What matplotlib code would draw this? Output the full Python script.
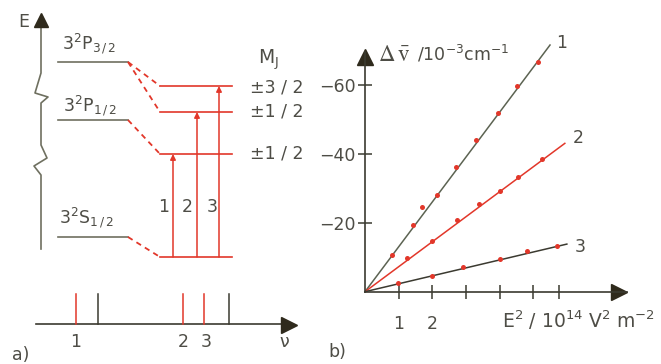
import numpy as np
import matplotlib.pyplot as plt

plt.rcParams['font.family'] = ['DejaVu Sans']
plt.rcParams['mathtext.fontset'] = 'custom'
plt.rcParams['mathtext.rm'] = 'DejaVu Sans'
plt.rcParams['mathtext.it'] = 'DejaVu Sans:italic'

RED = '#e2372a'
GRAY = '#6f7060'
DARK = '#3b3a30'
TXT = '#4e4d46'
ARROW = '#2f2a1c'

# ---- a) Stark splitting of the Na D lines (schematic, diagram units, y downwards)
fine_names = [r'3$^\mathregular{2}$P$_\mathregular{3\,/\,2}$',
              r'3$^\mathregular{2}$P$_\mathregular{1\,/\,2}$',
              r'3$^\mathregular{2}$S$_\mathregular{1\,/\,2}$']
fine_E = [62, 120, 237]           # unperturbed levels
stark_E = [86, 112, 154, 257]     # shifted levels in the field
stark_names = ['±3 / 2', '±1 / 2', '±1 / 2']
links = [(0, 0), (0, 1), (1, 2), (2, 3)]   # fine level -> stark level
trans_x = [173, 197, 219]
trans_upper = [2, 1, 0]
trans_names = ['1', '2', '3']
spec_red = [76, 183, 204]
spec_red_names = ['1', '2', '3']
spec_black = [98, 229]

# ---- b) shift vs E^2
x1 = [0.79, 1.42, 1.68, 2.13, 2.69, 3.29, 3.96, 4.5, 5.12]
y1 = [-10.6, -19.3, -24.5, -28, -36.2, -44, -51.7, -59.7, -66.5]
x2 = [1.25, 1.98, 2.73, 3.38, 4.01, 4.55, 5.24]
y2 = [-9.7, -14.8, -20.8, -25.3, -29.3, -33.3, -38.5]
x3 = [0.99, 1.98, 2.92, 4.01, 4.82, 5.69]
y3 = [-2.4, -4.6, -7.2, -9.4, -11.8, -13.2]
fit_x = [5.49, 5.93, 5.99]
fit_y = [-71.5, -43, -13.8]
fit_colors = ['#5c6352', RED, DARK]
xticks = [1, 2, 3, 4, 5, 5.75]
xticklabels = ['1', '2', '', '', '', '']
yticks = [-20, -40, -60]

W, H = 661, 364
fig = plt.figure(figsize=(W / 100, H / 100), dpi=100)

ax = fig.add_axes([0, 0, 1, 1])
ax.set_xlim(0, W)
ax.set_ylim(H, 0)
ax.axis('off')

fs = 12.5
# energy axis with breaks
ex = 41
ax.plot([ex, ex, 35, 48, ex, ex, 47, 34, ex, ex],
        [24, 73, 93, 97, 103, 145, 158, 166, 175, 249], color=GRAY, lw=1.2)
ax.plot(ex, 20, marker='^', ms=10, color=ARROW)
ax.text(24, 27, 'E', fontsize=fs, color=TXT, ha='center', va='baseline')

for E in fine_E:
    ax.plot([58, 128], [E, E], color=GRAY, lw=1.2)
for name, xl, base in zip(fine_names, [62, 63, 59], [50, 112, 223]):
    ax.text(xl, base, name, fontsize=fs, color=TXT, ha='left', va='baseline')

for E in stark_E:
    ax.plot([160, 232], [E, E], color=RED, lw=1.2)
for a, b in links:
    ax.plot([128, 160], [fine_E[a], stark_E[b]], color=RED, lw=1.3, ls=(0, (3, 2.5)))

for xt, up, name, xl in zip(trans_x, trans_upper, trans_names, [164, 187, 212]):
    ax.annotate('', xy=(xt, stark_E[up]), xytext=(xt, stark_E[3]),
                arrowprops=dict(arrowstyle='-|>', color=RED, lw=1.1, mutation_scale=8,
                                shrinkA=0, shrinkB=0))
    ax.text(xl, 212, name, fontsize=fs, color=TXT, ha='center', va='baseline')

ax.text(258, 64, r'M$_\mathregular{J}$', fontsize=13.5, color=TXT, ha='left', va='baseline')
for name, base in zip(stark_names, [92, 117, 159]):
    ax.text(304, base, name, fontsize=fs, color=TXT, ha='right', va='baseline')

# spectrum
ax.plot([36, 285], [324, 324], color=DARK, lw=1.2)
ax.plot(289, 325, marker='>', ms=11, color=ARROW)
for xs in spec_red:
    ax.plot([xs, xs], [294, 324], color=RED, lw=1.1)
for xs in spec_black:
    ax.plot([xs, xs], [294, 324], color=DARK, lw=1.1)
for name, xl in zip(spec_red_names, [76, 183, 206]):
    ax.text(xl, 347, name, fontsize=fs, color=TXT, ha='center', va='baseline')
ax.text(284, 347, 'ν', fontsize=fs, color=TXT, ha='center', va='baseline')
ax.text(12, 360, 'a)', fontsize=fs, color=TXT, ha='left', va='baseline')

# ---- b)
x0, y0 = 365, 291.7
xmax, ymax = 7.77, 69.5
sx, sy = 33.7, 3.45
bx = fig.add_axes([x0 / W, (H - y0) / H, xmax * sx / W, ymax * sy / H])
bx.set_xlim(0, xmax)
bx.set_ylim(0, -ymax)
bx.patch.set_alpha(0)
for s in ['top', 'right']:
    bx.spines[s].set_visible(False)
for s in ['left', 'bottom']:
    bx.spines[s].set_color(DARK)
    bx.spines[s].set_linewidth(1.2)
bx.plot(0, 1.0 - 5 / (ymax * sy), marker='^', ms=12, color=ARROW,
        transform=bx.transAxes, clip_on=False)
bx.plot(1.0 - 8 / (xmax * sx), 0, marker='>', ms=12, color=ARROW,
        transform=bx.transAxes, clip_on=False)

bx.set_xticks(xticks)
bx.set_xticklabels(xticklabels)
bx.set_yticks(yticks)
bx.tick_params(direction='inout', length=10, width=1.1, color=DARK,
               labelsize=fs, labelcolor=TXT)
bx.tick_params(axis='x', pad=12)
bx.tick_params(axis='y', pad=2)

for xe, ye, c in zip(fit_x, fit_y, fit_colors):
    bx.plot([0, xe], [0, ye], color=c, lw=1.1, clip_on=False)
for xs, ys in [(x1, y1), (x2, y2), (x3, y3)]:
    bx.plot(xs, ys, ls='none', marker='o', ms=3.6, mew=0, color=RED, clip_on=False)

ax.text(562, 48, '1', fontsize=fs, color=TXT, ha='center', va='baseline')
ax.text(578, 143, '2', fontsize=fs, color=TXT, ha='center', va='baseline')
ax.text(580, 252, '3', fontsize=fs, color=TXT, ha='center', va='baseline')

ax.text(378, 61, r'$\Delta\,\bar{\mathrm{v}}$', fontsize=16.5, color=TXT, ha='left',
        va='baseline', math_fontfamily='stix')
ax.text(417, 60, r'/10$^\mathregular{-3}$cm$^\mathregular{-1}$', fontsize=fs, color=TXT,
        ha='left', va='baseline')
ax.text(502, 328, r'E$^\mathregular{2}$ / 10$^\mathregular{14}$ V$^\mathregular{2}$ m$^\mathregular{-2}$',
        fontsize=13.5, color=TXT, ha='left', va='baseline')
ax.text(328, 357, 'b)', fontsize=fs, color=TXT, ha='left', va='baseline')

fig.savefig('out.png', dpi=100)
